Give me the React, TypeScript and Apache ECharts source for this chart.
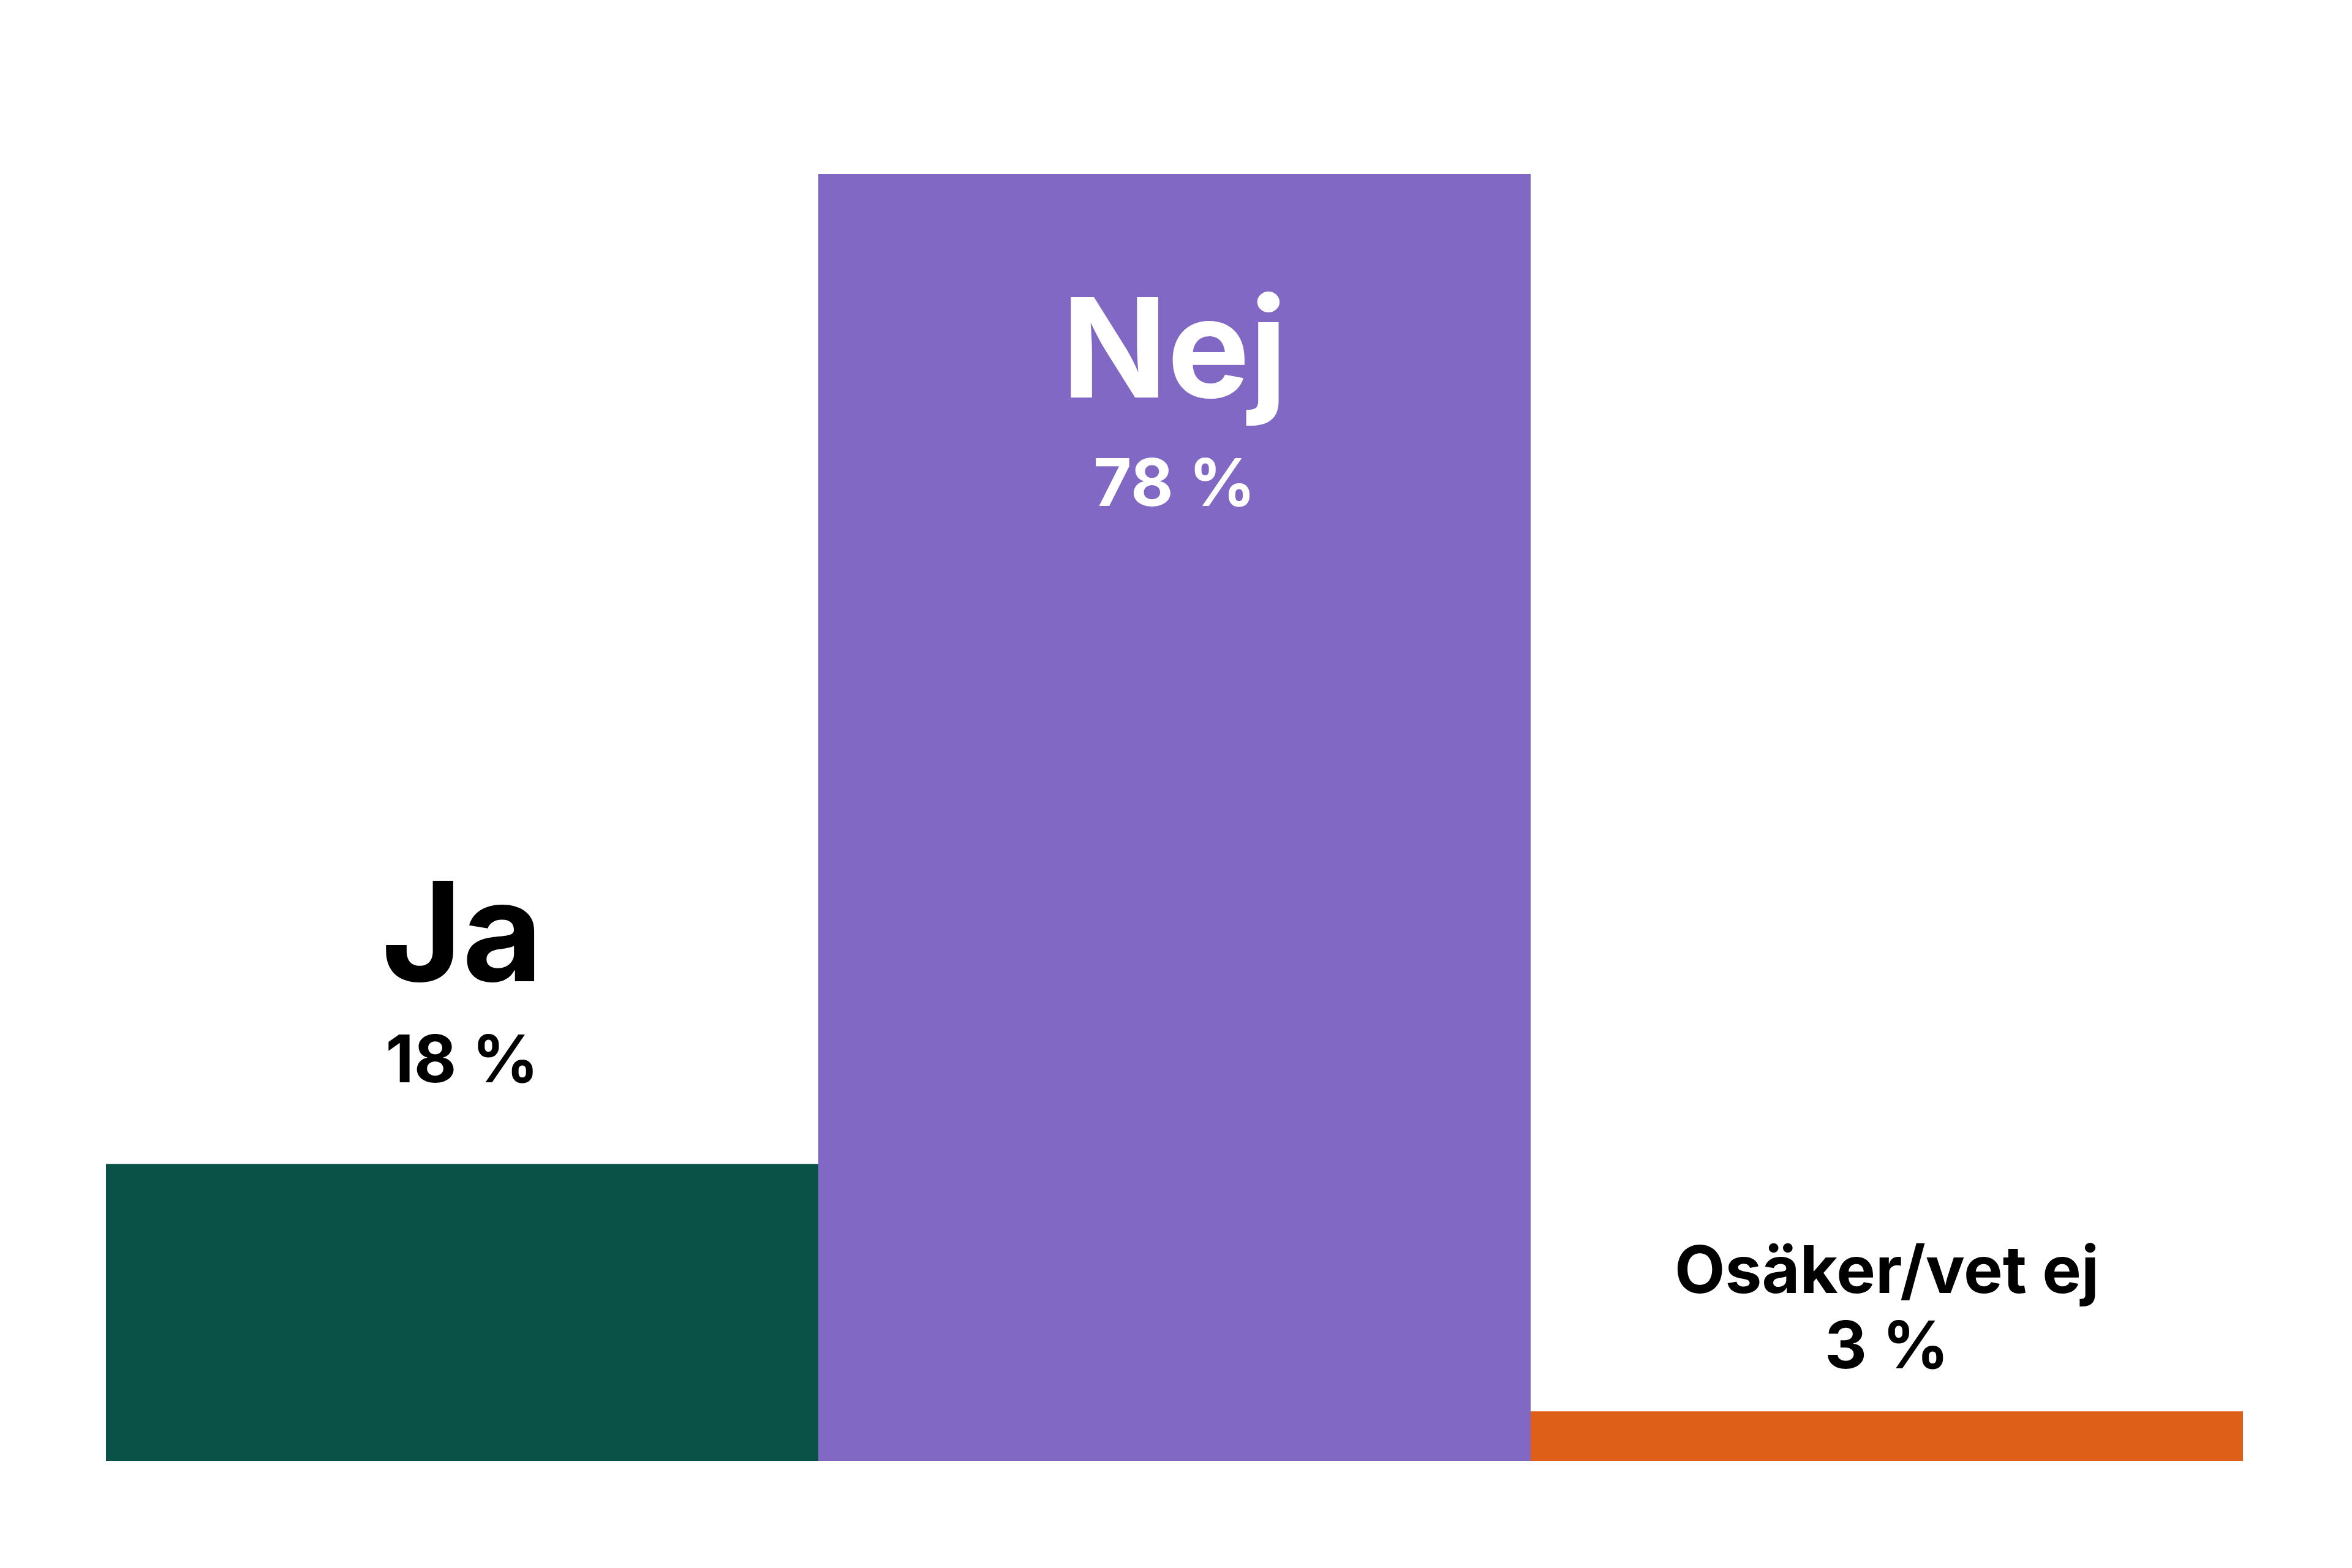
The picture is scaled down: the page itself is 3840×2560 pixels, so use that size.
import React, { useEffect, useRef } from 'react'
import * as echarts from 'echarts'

const categories = ['Ja', 'Nej', 'Osäker/vet ej']
const values = [18, 78, 3]
const barColors = ['#0A5247', '#8068C4', '#DD5F18']

const FONT = 'Inter, "Noto Sans", sans-serif'

const App: React.FC = () => {
    const chartRef = useRef<HTMLDivElement>(null)

    useEffect(() => {
        document.body.style.margin = '0'
        const chart = echarts.init(chartRef.current, null, { renderer: 'svg' })

        const labelFor = (i: number) => {
            const pct = `${values[i]} %`
            if (i === 0) {
                return {
                    show: true,
                    position: 'top',
                    distance: 104,
                    formatter: `{name|${categories[i]}}\n{pct|${pct}}`,
                    rich: {
                        name: { fontFamily: FONT, fontWeight: 700, fontSize: 226, lineHeight: 280, color: '#000' },
                        pct: { fontFamily: FONT, fontWeight: 700, fontSize: 107, lineHeight: 136, color: '#000' },
                    },
                }
            }
            if (i === 1) {
                return {
                    show: true,
                    position: 'insideTop',
                    distance: 131,
                    formatter: `{name|${categories[i]}}\n{pct|${pct}}`,
                    rich: {
                        name: { fontFamily: FONT, fontWeight: 700, fontSize: 226, lineHeight: 304, color: '#fff' },
                        pct: { fontFamily: FONT, fontWeight: 700, fontSize: 107, lineHeight: 136, color: '#fff' },
                    },
                }
            }
            return {
                show: true,
                position: 'top',
                distance: 48,
                formatter: `{name|${categories[i]}}\n{pct|${pct}}`,
                rich: {
                    name: { fontFamily: FONT, fontWeight: 700, fontSize: 107, lineHeight: 123, color: '#000' },
                    pct: { fontFamily: FONT, fontWeight: 700, fontSize: 107, lineHeight: 123, color: '#000' },
                },
            }
        }

        const option = {
            animation: false,
            backgroundColor: '#fff',
            grid: {
                left: 173,
                right: 178,
                top: 230,
                bottom: 175,
            },
            xAxis: {
                type: 'category',
                data: categories,
                axisLine: { show: false },
                axisTick: { show: false },
                axisLabel: { show: false },
            },
            yAxis: {
                type: 'value',
                min: 0,
                max: 80,
                show: false,
                splitLine: { show: false },
            },
            series: [
                {
                    type: 'bar',
                    barWidth: '100%',
                    barCategoryGap: '0%',
                    data: values.map((v, i) => ({
                        value: v,
                        itemStyle: { color: barColors[i] },
                        label: labelFor(i),
                    })),
                },
            ],
        }

        chart.setOption(option)

        return () => {
            chart.dispose()
        }
    }, [])

    return <div ref={chartRef} style={{ width: '3840px', height: '2560px' }} />
}

export default App
